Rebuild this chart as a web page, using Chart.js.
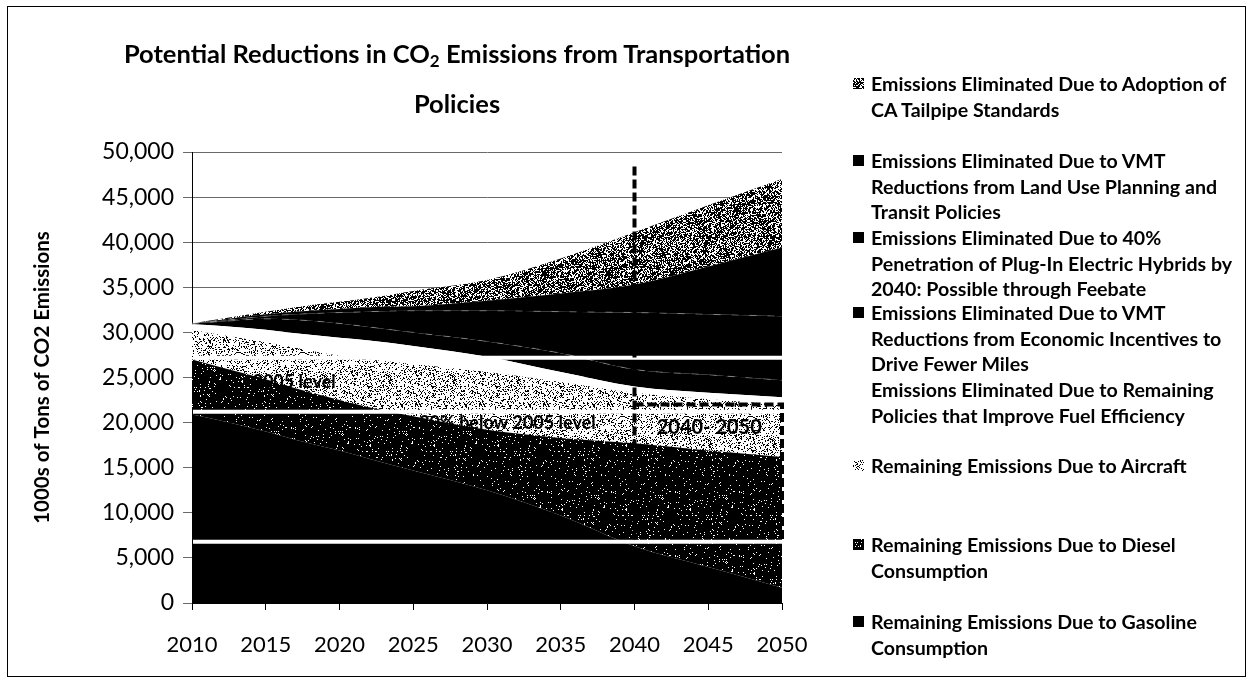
<!DOCTYPE html>
<html>
<head>
<meta charset="utf-8">
<script src="https://cdn.jsdelivr.net/npm/chart.js@4.4.0/dist/chart.umd.min.js"></script>
<style>
  body { margin: 0; background: #fff; }
  #wrap { position: relative; width: 1252px; height: 683px; overflow: hidden; background: #fff; }
  #frame { position: absolute; left: 7px; top: 6px; width: 1239px; height: 671px; border: 1px solid #000; box-sizing: border-box; }
  #chart { position: absolute; left: 0; top: 0; }
  #title { position: absolute; left: 90px; width: 734px; top: 32px; text-align: center;
           font: bold 25.5px Lato, sans-serif; line-height: 42px; color: #000; }
  #legend { position: absolute; left: 850px; top: 0; width: 400px; font: bold 19.6px Lato, sans-serif; color: #000; }
  .item { position: absolute; left: 0; }
  .item canvas { position: absolute; left: 3px; top: 7px; }
  .item div { position: absolute; left: 21px; top: 0; line-height: 25.5px; white-space: nowrap; }
</style>
</head>
<body>
<div id="wrap">
  <div id="frame"></div>
  <canvas id="chart" width="1252" height="683"></canvas>
  <div id="title">Potential Reductions in CO<sub style="font-size:17px;vertical-align:-4px;">2</sub> Emissions from Transportation<br>Policies</div>
  <div id="legend"></div>
</div>
<script>
// ---- data (1000s of tons of CO2) ----
const years = [2010, 2012, 2015, 2017, 2020, 2022, 2025, 2030, 2035, 2040, 2045, 2050];

const gasoline = [20900, 20200, 19000, 18100, 16900, 16000, 14700, 12500, 9700, 6300, 4000, 1700];
const diesel   = [6100, 5900, 5800, 5700, 5600, 5700, 6000, 6700, 8600, 11400, 12900, 14500];
const aircraft = [3300, 3600, 4100, 4500, 4900, 5300, 5800, 6400, 6200, 5600, 5700, 5800];
const remainingPolicies = [600, 1000, 1400, 1600, 2000, 2100, 2000, 1700, 1100, 700, 700, 800];
const vmtEconomic = [100, 500, 1200, 1500, 1600, 1500, 1500, 1700, 2100, 1900, 2000, 1900];
const plugInHybrids = [0, 100, 300, 600, 1200, 1700, 2400, 3400, 4600, 6300, 6700, 7100];
const vmtLandUse = [0, 100, 200, 300, 400, 500, 500, 1100, 2000, 3100, 5300, 7600];
const caTailpipe = [0, 100, 300, 500, 800, 1000, 1700, 2300, 3900, 5800, 6800, 7600];

const yTickStep = 5000;
const xTickStep = 5;

// reference levels drawn as white lines
const levelValues = [27200, 21200, 6800];
const levelLabels = [
  { text: '2005 level', x: 2014.1, y: 24450 },
  { text: '20% below 2005 level', x: 2025.4, y: 19950 }
];
// 2040-2050 focus box
const focusYears = [2040, 2050];
const focusTop = 22000, focusBottom = 6800, markerTop = 48400;

// ---- fill textures ----
function speckle(bg, fg, density, seed) {
  const c = document.createElement('canvas');
  c.width = 64; c.height = 64;
  const g = c.getContext('2d');
  g.fillStyle = bg; g.fillRect(0, 0, 64, 64);
  g.fillStyle = fg;
  for (let y = 0; y < 64; y++) {
    for (let x = 0; x < 64; x++) {
      let h = Math.imul(x + 1, 374761393) ^ Math.imul(y + 1, 668265263) ^ Math.imul(seed, 1442695041);
      h = Math.imul(h ^ (h >>> 13), 1274126177);
      h ^= h >>> 16;
      if ((h >>> 0) / 4294967296 < density) g.fillRect(x, y, 1, 1);
    }
  }
  return c;
}

const canvas = document.getElementById('chart');
const ctx = canvas.getContext('2d');

const tex = {
  gray: speckle('#ffffff', '#000000', 0.6, 3),
  light: speckle('#ffffff', '#000000', 0.24, 7),
  dark: speckle('#000000', '#ffffff', 0.05, 11)
};
const pat = k => ctx.createPattern(tex[k], 'repeat');

// bottom to top
const series = [
  { name: 'Remaining Emissions Due to Gasoline Consumption', data: gasoline, fill: '#000000' },
  { name: 'Remaining Emissions Due to Diesel Consumption', data: diesel, fill: pat('dark'), tex: 'dark' },
  { name: 'Remaining Emissions Due to Aircraft', data: aircraft, fill: pat('light'), tex: 'light' },
  { name: 'Emissions Eliminated Due to Remaining Policies that Improve Fuel Efficiency', data: remainingPolicies, fill: '#ffffff' },
  { name: 'Emissions Eliminated Due to VMT Reductions from Economic Incentives to Drive Fewer Miles', data: vmtEconomic, fill: '#000000' },
  { name: 'Emissions Eliminated Due to 40% Penetration of Plug-In Electric Hybrids by 2040: Possible through Feebate', data: plugInHybrids, fill: '#000000' },
  { name: 'Emissions Eliminated Due to VMT Reductions from Land Use Planning and Transit Policies', data: vmtLandUse, fill: '#000000' },
  { name: 'Emissions Eliminated Due to Adoption of CA Tailpipe Standards', data: caTailpipe, fill: pat('gray'), tex: 'gray' }
];

const datasets = series.map((s, i) => ({
  label: s.name,
  data: s.data.map((v, j) => ({ x: years[j], y: v })),
  backgroundColor: s.fill,
  borderColor: (i >= 4 && i <= 5) ? 'rgba(255,255,255,0.35)' : 'rgba(0,0,0,0)',
  borderWidth: (i >= 4 && i <= 5) ? 1 : 0,
  borderDash: [7, 11],
  pointRadius: 0,
  cubicInterpolationMode: 'monotone',
  fill: i === 0 ? 'origin' : '-1'
}));

// annotations: level lines, 2040 marker, focus box, texts
const annotate = {
  id: 'annotate',
  afterDatasetsDraw(chart) {
    const { ctx, chartArea: a, scales: { x, y } } = chart;
    ctx.save();
    // white level lines
    ctx.strokeStyle = '#ffffff';
    ctx.lineWidth = 4;
    levelValues.forEach(v => {
      const py = y.getPixelForValue(v);
      ctx.beginPath(); ctx.moveTo(a.left + 1, py); ctx.lineTo(a.right, py); ctx.stroke();
    });
    // dashed marker and box
    const x0 = x.getPixelForValue(focusYears[0]), x1 = x.getPixelForValue(focusYears[1]);
    const yt = y.getPixelForValue(focusTop), yb = y.getPixelForValue(focusBottom);
    ctx.strokeStyle = '#000000';
    ctx.lineWidth = 4;
    ctx.setLineDash([9, 4]);
    ctx.beginPath();
    ctx.moveTo(x0, y.getPixelForValue(markerTop)); ctx.lineTo(x0, yb);
    ctx.moveTo(x0, yt); ctx.lineTo(x1, yt); ctx.lineTo(x1, yb);
    ctx.stroke();
    ctx.setLineDash([]);
    // plain black labels (vanish over the black areas, as in the original)
    ctx.fillStyle = '#000000';
    ctx.textBaseline = 'middle';
    ctx.textAlign = 'left';
    ctx.font = 'bold 18px Lato, sans-serif';
    levelLabels.forEach(l => ctx.fillText(l.text, x.getPixelForValue(l.x), y.getPixelForValue(l.y)));
    ctx.textAlign = 'center';
    ctx.font = 'bold 20px Lato, sans-serif';
    ctx.fillText('2040- 2050', (x0 + x1) / 2 + 1, y.getPixelForValue(19400));
    ctx.restore();
  }
};

new Chart(ctx, {
  type: 'line',
  data: { datasets },
  options: {
    responsive: false,
    animation: false,
    events: [],
    layout: { padding: { left: 0, top: 152, right: 470, bottom: 0 } },
    plugins: { legend: { display: false }, title: { display: false }, tooltip: { enabled: false } },
    scales: {
      x: {
        type: 'linear', min: 2010, max: 2050,
        afterFit: s => { s.height = 80; },
        grid: { drawOnChartArea: false, color: '#000', tickLength: 7 },
        border: { color: '#000', width: 1 },
        ticks: { stepSize: xTickStep, padding: 22, color: '#000', font: { family: 'Lato', size: 22 },
                 callback: v => String(v) }
      },
      y: {
        stacked: true, min: 0, max: 50000,
        afterFit: s => { s.width = 192; },
        grid: { color: '#6a6a6a', tickLength: 9 },
        border: { color: '#000', width: 1 },
        ticks: { stepSize: yTickStep, padding: 9, color: '#000', font: { family: 'Lato', size: 23 } },
        title: { display: true, text: '1000s of Tons of CO2 Emissions', color: '#000',
                 font: { family: 'Lato', size: 20.5, weight: 'bold' }, padding: { top: 30, bottom: 0 } }
      }
    }
  },
  plugins: [annotate]
});

// ---- legend (top of stack first, as in the original) ----
const legendRows = [
  { tops: 71, lines: ['Emissions Eliminated Due to Adoption of', 'CA Tailpipe Standards'], s: 7 },
  { tops: 148, lines: ['Emissions Eliminated Due to VMT', 'Reductions from Land Use Planning and', 'Transit Policies'], s: 6 },
  { tops: 225, lines: ['Emissions Eliminated Due to 40%', 'Penetration of Plug-In Electric Hybrids by', '2040: Possible through Feebate'], s: 5 },
  { tops: 300, lines: ['Emissions Eliminated Due to VMT', 'Reductions from Economic Incentives to', 'Drive Fewer Miles'], s: 4 },
  { tops: 377, lines: ['Emissions Eliminated Due to Remaining', 'Policies that Improve Fuel Efficiency'], s: 3 },
  { tops: 453, lines: ['Remaining Emissions Due to Aircraft'], s: 2 },
  { tops: 532, lines: ['Remaining Emissions Due to Diesel', 'Consumption'], s: 1 },
  { tops: 609, lines: ['Remaining Emissions Due to Gasoline', 'Consumption'], s: 0 }
];
const legend = document.getElementById('legend');
legendRows.forEach(r => {
  const item = document.createElement('div');
  item.className = 'item';
  item.style.top = r.tops + 'px';
  const mk = document.createElement('canvas');
  mk.width = 11; mk.height = 11;
  const mc = mk.getContext('2d');
  const s = series[r.s];
  mc.fillStyle = s.tex ? mc.createPattern(tex[s.tex], 'repeat') : s.fill;
  mc.fillRect(0, 0, 11, 11);
  item.appendChild(mk);
  const tx = document.createElement('div');
  tx.innerHTML = r.lines.join('<br>');
  item.appendChild(tx);
  legend.appendChild(item);
});
</script>
</body>
</html>
